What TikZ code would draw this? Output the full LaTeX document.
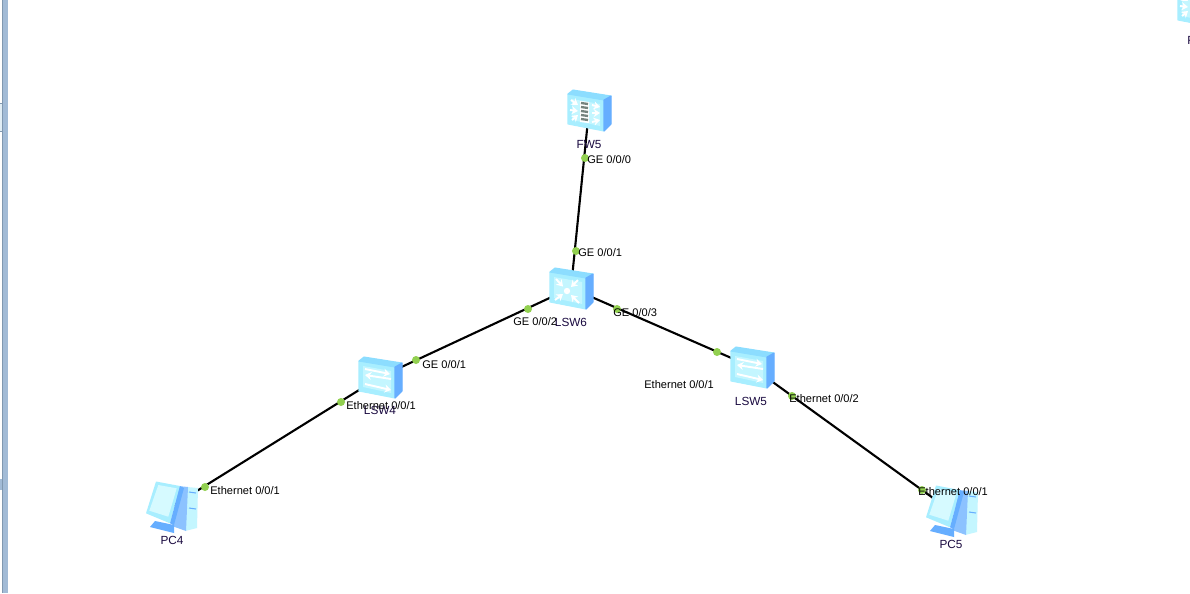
\documentclass[tikz,border=0pt]{standalone}
\usepackage{fontspec}
\setmainfont{Liberation Sans}
\usetikzlibrary{arrows.meta}
\definecolor{boxFront}{HTML}{A8EEFF}
\definecolor{boxInner}{HTML}{C4F6FF}
\definecolor{boxTop}{HTML}{8CDDFF}
\definecolor{boxSide}{HTML}{66AEFF}
\definecolor{pcPale}{HTML}{D6FAFF}
\definecolor{portGreen}{HTML}{92D050}
\definecolor{devName}{HTML}{1A0A40}
\definecolor{frameBlue}{HTML}{A2BBD6}
\definecolor{frameDark}{HTML}{8098B0}
\definecolor{brickGray}{HTML}{76847F}

\begin{document}
\begin{tikzpicture}[
    x=0.02cm, y=-0.02cm,
    devpoint/.style={inner sep=0pt, minimum size=0pt},
    link/.style={draw=black, line width=1.2pt},
    portdot/.style={circle, fill=portGreen, inner sep=0pt, minimum size=0.16cm},
    portlabel/.style={font=\fontsize{6.3}{7}\selectfont, anchor=west, inner sep=0pt, text=black},
    devlabel/.style={font=\fontsize{6.7}{8}\selectfont, inner sep=0pt, text=devName},
    glyph/.style={white, line width=1.1pt, -{Stealth[length=3.6pt,width=4.6pt]}},
    devbox/.pic={
      \filldraw[fill=boxFront, draw=boxFront, line width=0.6pt, line join=round]
        (-21,-16) -- (15,-10) -- (15,21) -- (-21,14) -- cycle;
      \fill[boxInner] (-17,-11) -- (11,-6) -- (11,16) -- (-17,10) -- cycle;
      \filldraw[fill=boxTop, draw=boxTop, line width=0.6pt, line join=round]
        (-21,-16) -- (-16,-20) -- (22,-14) -- (15,-10) -- cycle;
      \filldraw[fill=boxSide, draw=boxSide, line width=0.6pt, line join=round]
        (15,-10) -- (22,-14) -- (22,14) -- (15,21) -- cycle;
    },
    accessicon/.pic={
      \pic {devbox};
      \draw[glyph] (-15,-8) -- (10,-3);
      \draw[glyph] (11,2) -- (-15,-2);
      \draw[glyph] (-15,7) -- (11,13);
    },
    coreicon/.pic={
      \pic {devbox};
      \draw[glyph] (-15,-9) -- (-8,-1.5);
      \draw[glyph] (7,-8) -- (0,-1);
      \draw[glyph] (-16,12) -- (-8,6);
      \draw[glyph] (8,15) -- (0,7);
      \fill[white] (-4,3) circle (3.2);
    },
    fwicon/.pic={
      \pic {devbox};
      \fill[white] (-9,-9) -- (0,-8) -- (0,13) -- (-9,12) -- cycle;
      \foreach \r in {-7,-3,1,5,9}{
        \draw[brickGray, line width=1.3pt] (-8,\r) -- (-1,\r+1);
      }
      \draw[glyph] (-18,-10) -- (-11,-5);
      \draw[glyph] (-19,0) -- (-11,1);
      \draw[glyph] (-17,10) -- (-11,5);
      \draw[glyph] (3,-5) -- (11,-3);
      \draw[glyph] (3,3) -- (11,3);
      \draw[glyph] (3,12) -- (11,10);
    },
    pcicon/.pic={
      \fill[boxInner] (16,-20) -- (27,-19) -- (26,21) -- (14,24) -- cycle;
      \fill[boxSide!75!white] (7,-21) -- (17,-20) -- (15,24) -- (1,19) -- cycle;
      \draw[boxSide, line width=0.6pt] (18,-15) -- (25,-14) (18,1) -- (25,2);
      \fill[boxSide] (-16,14) -- (3,18) -- (3,26) -- (-21,20) -- cycle;
      \fill[boxFront] (-15,-25.5) -- (9,-21) -- (-1,16.3) -- (-25,6.3) -- cycle;
      \fill[pcPale] (-12.7,-22) -- (5.7,-18.7) -- (-2.7,9.7) -- (-21.7,3.7) -- cycle;
      \fill[boxSide] (9,-21) -- (13,-19) -- (3,18) -- (-1,16.3) -- cycle;
    },
  ]
    \useasboundingbox (0,0) rectangle (1190,593);
    \clip (0,0) rectangle (1190,593);
    \fill[white] (0,0) rectangle (1190,593);

    % ─── window frame on the left ───
    \fill[frameBlue] (2,0) rectangle (8,593);
    \draw[frameDark, line width=0.6pt] (2.5,0) -- (2.5,593);
    \fill[pcPale!40!frameBlue!40!white] (0,103) rectangle (2,131);
    \draw[frameDark, line width=0.4pt] (0,103) -- (2,103) (0,131) -- (2,131);
    \fill[frameBlue] (0,479) rectangle (2,490);

    % ─── device positions ───
    \node[devpoint] (FW5) at (589,110) {};
    \node[devpoint] (LSW6) at (571,288) {};
    \node[devpoint] (LSW4) at (380,377) {};
    \node[devpoint] (LSW5) at (752,367) {};
    \node[devpoint] (PC4) at (171,507) {};
    \node[devpoint] (PC5) at (951,511) {};

    % ─── links ───
    \draw[link] (FW5) -- (LSW6);
    \draw[link] (LSW6) -- (LSW4);
    \draw[link] (LSW6) -- (LSW5);
    \draw[link] (LSW4) -- (PC4);
    \draw[link] (LSW5) -- (PC5);

    % ─── icons ───
    \pic at (FW5) {fwicon};
    \pic at (LSW6) {coreicon};
    \pic at (LSW4) {accessicon};
    \pic at (LSW5) {accessicon};
    \pic at (PC4) {pcicon};
    \pic at (PC5) {pcicon};
    \pic at (1199,6) {fwicon};

    % ─── port dots ───
    \node[portdot] (fwport) at (585,158) {};
    \node[portdot] (coreup) at (576,251) {};
    \node[portdot] (coreleft) at (528,309) {};
    \node[portdot] (coreright) at (617,309) {};
    \node[portdot] (lsw4up) at (416,360) {};
    \node[portdot] (lsw4down) at (341,402) {};
    \node[portdot] (pc4port) at (205,487) {};
    \node[portdot] (lsw5up) at (717,352) {};
    \node[portdot] (lsw5down) at (792,396) {};
    \node[portdot] (pc5port) at (922,490) {};

    % ─── device names ───
    \node[devlabel] (fwname) at (589,144) {FW5};
    \node[devlabel] (corename) at (571,322) {LSW6};
    \node[devlabel] (lsw4name) at (380,410) {LSW4};
    \node[devlabel] (lsw5name) at (751,401) {LSW5};
    \node[devlabel] (pc4name) at (172,540) {PC4};
    \node[devlabel] (pc5name) at (951,544) {PC5};
    \node[devlabel, anchor=west] (fwcut) at (1187,40) {F};

    % ─── port names ───
    \node[portlabel] (fwportname) at (587,159.5) {GE 0/0/0};
    \node[portlabel] (coreupname) at (578,252.5) {GE 0/0/1};
    \node[portlabel] (coreleftname) at (513,321.5) {GE 0/0/2};
    \node[portlabel] (corerightname) at (613,312.5) {GE 0/0/3};
    \node[portlabel] (lsw4upname) at (422,364.5) {GE 0/0/1};
    \node[portlabel] (lsw4downname) at (346,405.5) {Ethernet 0/0/1};
    \node[portlabel] (pc4portname) at (210,490.5) {Ethernet 0/0/1};
    \node[portlabel] (lsw5upname) at (644,384.5) {Ethernet 0/0/1};
    \node[portlabel] (lsw5downname) at (789,398.5) {Ethernet 0/0/2};
    \node[portlabel] (pc5portname) at (918,491.5) {Ethernet 0/0/1};
  \end{tikzpicture}
\end{document}
